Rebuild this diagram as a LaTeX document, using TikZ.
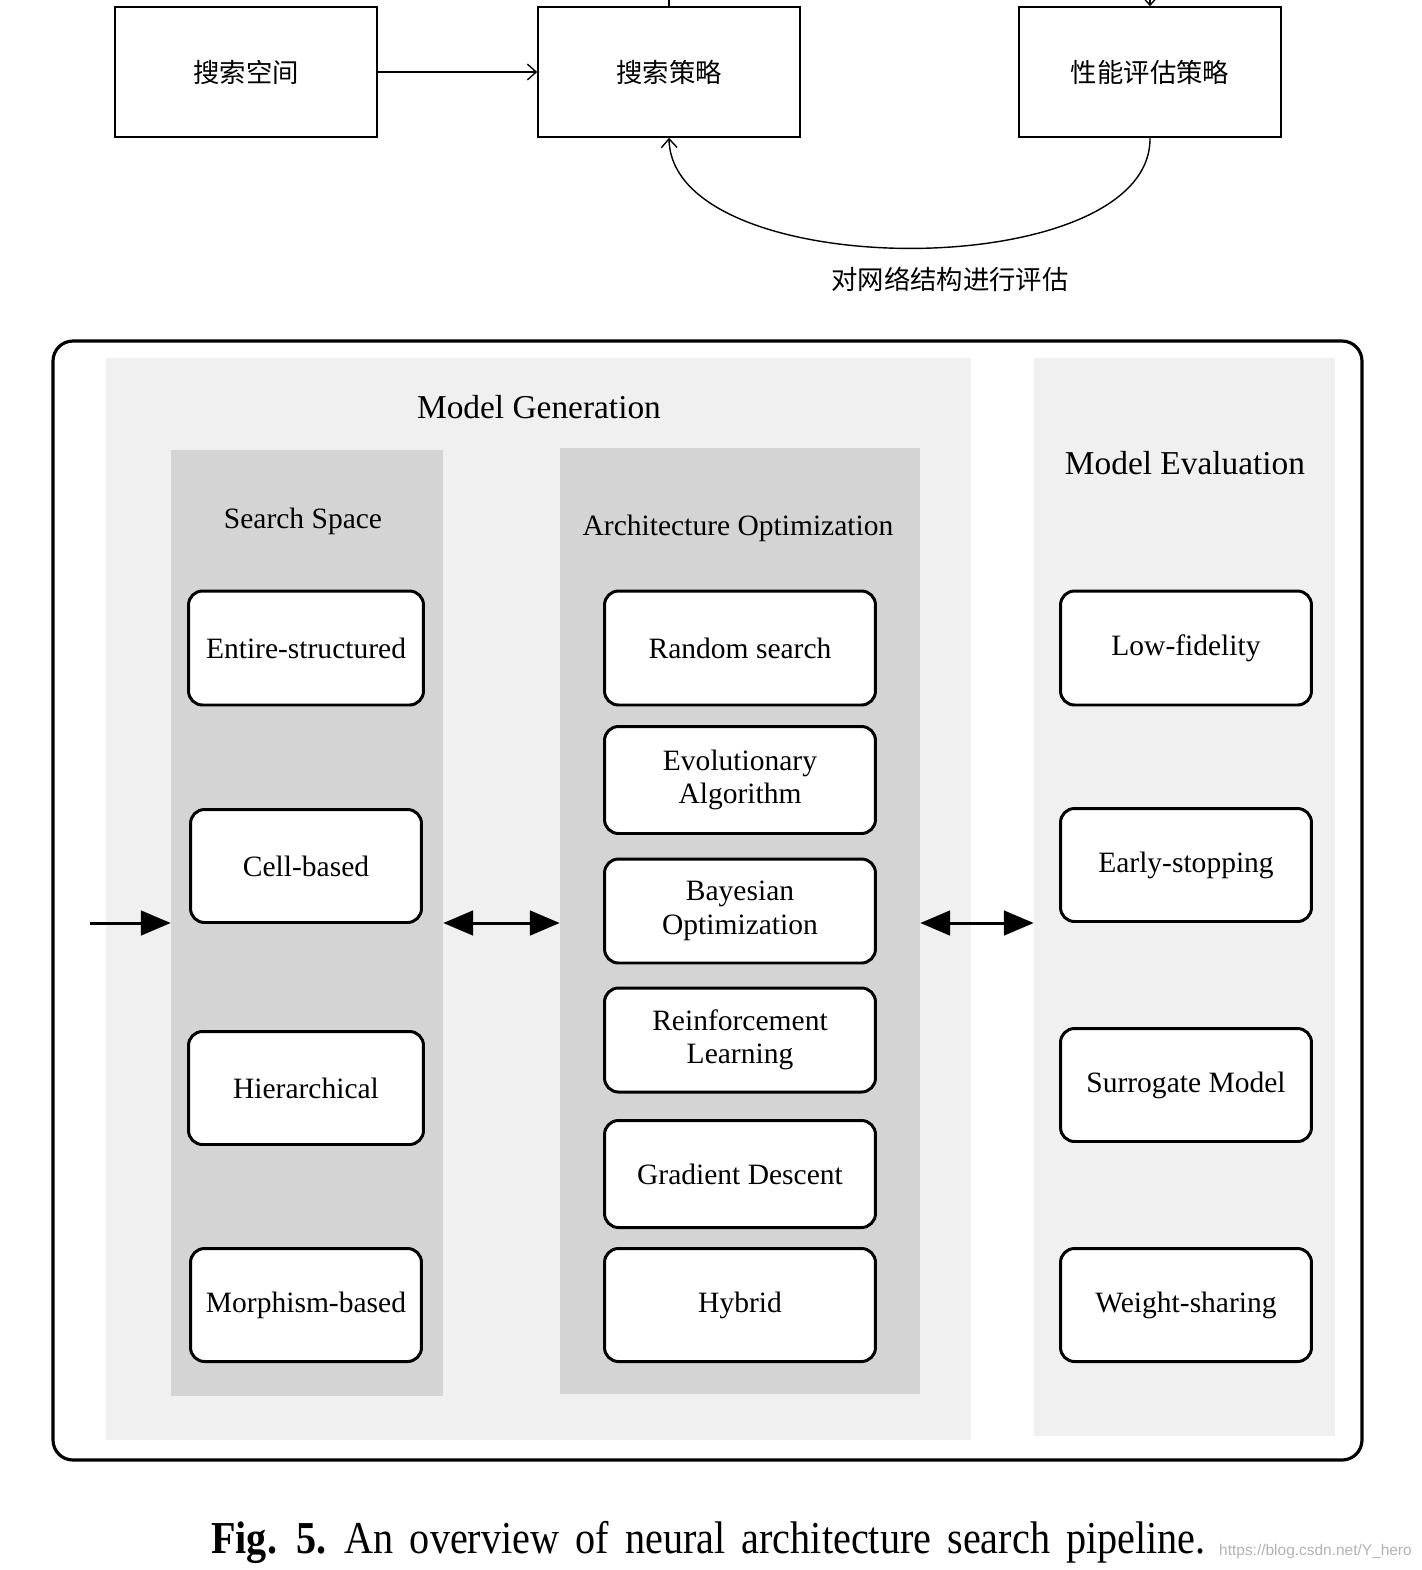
\documentclass[tikz,border=0pt]{standalone}
\usepackage{fontspec}
\usepackage{graphicx}
\setmainfont{Liberation Serif}
\newfontfamily\cjk{Noto Sans CJK SC}
\newfontfamily\urlfont{Liberation Sans}
\usetikzlibrary{arrows.meta,positioning}

\begin{document}
\begin{tikzpicture}[x=0.02cm, y=-0.02cm]

% --- Define Styles ---
\tikzset{
    cnbox/.style={draw, line width=0.9pt, minimum width=5.24cm, minimum height=2.6cm, inner sep=0pt, font=\cjk\fontsize{15}{18}\selectfont},
    thinarrow/.style={-{Straight Barb[length=5pt, width=9pt]}, line width=0.8pt},
    outer/.style={draw, line width=1.8pt, rounded corners=0.4cm},
    lightpanel/.style={fill=black!6, inner sep=0pt},
    darkpanel/.style={fill=black!17, inner sep=0pt},
    header/.style={font=\fontsize{19}{23}\selectfont},
    subheader/.style={font=\fontsize{16.8}{20}\selectfont},
    method/.style={draw, fill=white, line width=1.7pt, rounded corners=0.28cm, align=center, inner sep=0pt, font=\fontsize{16.8}{19}\selectfont},
    bigarrow/.style={line width=1.7pt, -{Triangle[length=17pt, width=14pt]}},
    botharrow/.style={line width=1.7pt, {Triangle[length=17pt, width=14pt]}-{Triangle[length=17pt, width=14pt]}}
}

\useasboundingbox (0,0) rectangle (1422,1570);
\coordinate (pagetop) at (0,0);

% ================= 1. CHINESE SKETCH =================
\node[cnbox] (space) at (246,72) {搜索空间};
\node[cnbox] (strategy) at (669,72) {搜索策略};
\node[cnbox] (perf) at (1150,72) {性能评估策略};

\draw[thinarrow] (space) -- (strategy);
\draw[line width=0.8pt] (strategy.north) -- (strategy.north |- pagetop);
\draw[thinarrow] (perf.north |- pagetop) -- (perf.north);
% feedback loop
\draw[thinarrow] (perf.south) .. controls (1152,285) and (672,285) .. (strategy.south);
\node[font=\cjk\fontsize{15}{18}\selectfont] (evaltext) at (950,279) {对网络结构进行评估};

% ================= 2. PIPELINE FRAME =================
\draw[outer] (53,341) rectangle (1362,1460);

\node[lightpanel, minimum width=17.3cm, minimum height=21.64cm] (gen) at (538.5,899) {};
\node[lightpanel, minimum width=6.02cm, minimum height=21.56cm] (eval) at (1184.5,897) {};
\node[darkpanel, minimum width=5.44cm, minimum height=18.92cm] (ss) at (307,923) {};
\node[darkpanel, minimum width=7.2cm, minimum height=18.92cm] (ao) at (740,921) {};

\node[header] (genlabel) at (539,407) {Model Generation};
\node[header] (evallabel) at (1185,463) {Model Evaluation};
\node[subheader] (sslabel) at (303,521) {Search Space};
\node[subheader] (aolabel) at (738,528) {Architecture Optimization};

% ================= 3. SEARCH SPACE =================
\node[method, minimum width=4.7cm, minimum height=2.28cm] (entire) at (306,648) {Entire-structured};
\node[method, minimum width=4.62cm, minimum height=2.26cm] (cell) at (306,866) {Cell-based};
\node[method, minimum width=4.7cm, minimum height=2.26cm] (hier) at (306,1088) {Hierarchical};
\node[method, minimum width=4.62cm, minimum height=2.26cm] (morph) at (306,1305) {Morphism-based};

% ================= 4. ARCHITECTURE OPTIMIZATION =================
\node[method, minimum width=5.42cm, minimum height=2.28cm] (random) at (740,648) {Random search};
\node[method, minimum width=5.42cm, minimum height=2.14cm] (evo) at (740,780) {Evolutionary\\Algorithm};
\node[method, minimum width=5.42cm, minimum height=2.08cm] (bayes) at (740,911) {Bayesian\\Optimization};
\node[method, minimum width=5.42cm, minimum height=2.08cm] (rl) at (740,1040) {Reinforcement\\Learning};
\node[method, minimum width=5.42cm, minimum height=2.14cm] (grad) at (740,1174) {Gradient Descent};
\node[method, minimum width=5.42cm, minimum height=2.26cm] (hybrid) at (740,1305) {Hybrid};

% ================= 5. MODEL EVALUATION =================
\node[method, minimum width=5.02cm, minimum height=2.28cm] (lowfid) at (1186,648) {Low-fidelity};
\node[method, minimum width=5.02cm, minimum height=2.26cm] (early) at (1186,865) {Early-stopping};
\node[method, minimum width=5.02cm, minimum height=2.26cm] (surr) at (1186,1085) {Surrogate Model};
\node[method, minimum width=5.02cm, minimum height=2.26cm] (weight) at (1186,1305) {Weight-sharing};

% arrows between stages
\coordinate (inlet) at (90,923);
\draw[bigarrow] (inlet) -- (ss.west |- inlet);
\draw[botharrow] (ss.east) -- (ss.east -| ao.west);
\draw[botharrow] (ao.east |- ss.east) -- (eval.west |- ss.east);

% ================= 6. CAPTION =================
\node[anchor=west] (caption) at (205,1542) {\scalebox{0.88}[1]{\fontsize{26}{30}\selectfont\spaceskip=0.4em\textbf{Fig. 5.}\hspace{0.45em}An overview of neural architecture search pipeline.}};
\node[anchor=west, text=black!30, font=\urlfont\fontsize{8.8}{10}\selectfont] (mark) at (1213,1551) {https://blog.csdn.net/Y\_hero};

\end{tikzpicture}
\end{document}
